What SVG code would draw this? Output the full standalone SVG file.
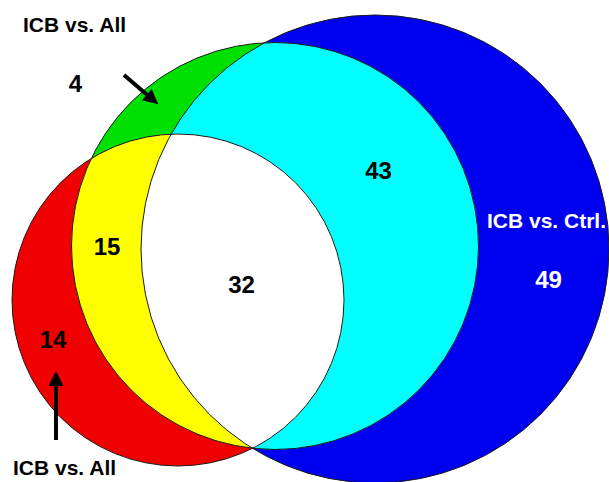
<svg xmlns="http://www.w3.org/2000/svg" width="609" height="482" viewBox="0 0 609 482">
  <style>
    .outline { fill: none; stroke: #1a1a1a; stroke-width: 1; }
    .label { font-family: "Liberation Sans", Arial, sans-serif; font-weight: bold; font-size: 21px; fill: #000; }
    .count { font-family: "Liberation Sans", Arial, sans-serif; font-weight: bold; font-size: 24px; fill: #000; text-anchor: middle; }
    .light { fill: #fff; }
    .pointer { stroke: #000; stroke-width: 4; fill: none; marker-end: url(#head); }
  </style>
  <defs>
    <circle id="c-ctrl" cx="375" cy="249" r="234"/>
    <circle id="c-all-top" cx="275" cy="246" r="203.5"/>
    <circle id="c-all-bottom" cx="178" cy="300" r="166"/>
    <clipPath id="clip-ctrl"><use href="#c-ctrl"/></clipPath>
    <clipPath id="clip-all-top"><use href="#c-all-top"/></clipPath>
    <clipPath id="clip-all-bottom"><use href="#c-all-bottom"/></clipPath>
    <marker id="head" viewBox="0 0 10 10" refX="4" refY="5" markerWidth="17" markerHeight="15" markerUnits="userSpaceOnUse" orient="auto">
      <path d="M0,0 L10,5 L0,10 z" fill="#000"/>
    </marker>
  </defs>

  <!-- base sets -->
  <g id="set-ctrl">
    <use href="#c-ctrl" fill="#0000F0"/>
  </g>
  <g id="set-all-top">
    <use href="#c-all-top" fill="#00E000"/>
  </g>
  <g id="set-all-bottom">
    <use href="#c-all-bottom" fill="#F00000"/>
  </g>

  <!-- overlaps -->
  <g id="overlap-top-ctrl">
    <use href="#c-all-top" fill="#00FFFF" clip-path="url(#clip-ctrl)"/>
  </g>
  <g id="overlap-top-bottom">
    <use href="#c-all-top" fill="#FFFF00" clip-path="url(#clip-all-bottom)"/>
  </g>
  <g id="overlap-all" clip-path="url(#clip-ctrl)">
    <use href="#c-all-top" fill="#FFFFFF" clip-path="url(#clip-all-bottom)"/>
  </g>

  <!-- circle outlines -->
  <g id="outlines">
    <use href="#c-ctrl" class="outline"/>
    <use href="#c-all-top" class="outline"/>
    <use href="#c-all-bottom" class="outline"/>
  </g>

  <!-- pointers from the labels -->
  <g id="connectors">
    <line class="pointer" x1="124" y1="75" x2="151.4" y2="98.5"/>
    <line class="pointer" x1="56" y1="440" x2="56" y2="380"/>
  </g>

  <!-- labels and counts -->
  <g id="labels">
    <text class="label" x="23" y="32">ICB vs. All</text>
    <text class="label" x="13" y="475">ICB vs. All</text>
    <text class="label light" x="487" y="228">ICB vs. Ctrl.</text>
    <text class="count" x="75.5" y="92">4</text>
    <text class="count" x="378.5" y="179">43</text>
    <text class="count" x="107" y="255">15</text>
    <text class="count" x="241.5" y="293">32</text>
    <text class="count" x="53" y="348">14</text>
    <text class="count light" x="548.5" y="288">49</text>
  </g>
</svg>
